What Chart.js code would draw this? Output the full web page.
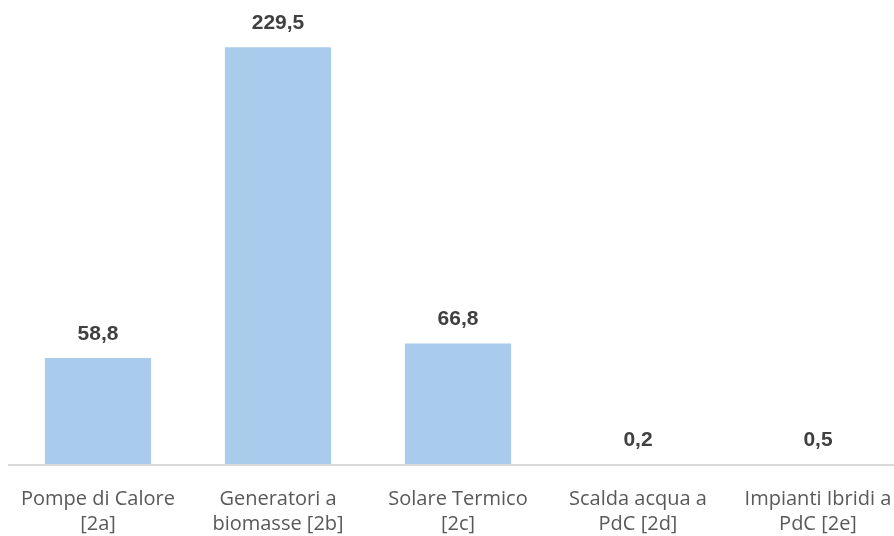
<!DOCTYPE html>
<html>
<head>
<meta charset="utf-8">
<script src="https://cdn.jsdelivr.net/npm/chart.js@4"></script>
<style>
    html, body { margin: 0; padding: 0; background: #fff; overflow: hidden; }
    #wrap { width: 920px; height: 536px; position: relative; }
</style>
</head>
<body>
<div id="wrap"><canvas id="chart"></canvas></div>
<script>
const categories = [
    ['Pompe di Calore', '[2a]'],
    ['Generatori a', 'biomasse [2b]'],
    ['Solare Termico', '[2c]'],
    ['Scalda acqua a', 'PdC [2d]'],
    ['Impianti Ibridi a', 'PdC [2e]']
];
const values = [58.8, 229.5, 66.8, 0.2, 0.5];

// value labels above bars + baseline drawn over the bars
const overlay = {
    id: 'overlay',
    afterDatasetsDraw(chart) {
        const ctx = chart.ctx;
        const area = chart.chartArea;
        const meta = chart.getDatasetMeta(0);
        ctx.save();
        ctx.strokeStyle = '#D9D9D9';
        ctx.lineWidth = 2;
        ctx.beginPath();
        ctx.moveTo(area.left, area.bottom);
        ctx.lineTo(area.right, area.bottom);
        ctx.stroke();

        ctx.font = 'bold 21px "Liberation Sans", Arial, sans-serif';
        ctx.fillStyle = '#404040';
        ctx.textAlign = 'center';
        ctx.textBaseline = 'middle';
        meta.data.forEach((bar, i) => {
            const txt = values[i].toFixed(1).replace('.', ',');
            ctx.fillText(txt, bar.x, bar.y - 24);
        });
        ctx.restore();
    }
};

new Chart(document.getElementById('chart'), {
    type: 'bar',
    data: {
        labels: categories,
        datasets: [{
            data: values,
            backgroundColor: '#A9CBEC',
            categoryPercentage: 1,
            barPercentage: 0.59
        }]
    },
    options: {
        responsive: true,
        maintainAspectRatio: false,
        animation: false,
        layout: { padding: { left: 8, right: 12, top: 10, bottom: 0 } },
        plugins: { legend: { display: false }, tooltip: { enabled: false } },
        scales: {
            x: {
                grid: { display: false },
                border: { display: false },
                ticks: {
                    color: '#595959',
                    font: { family: '"Open Sans", Roboto, sans-serif', size: 20, lineHeight: 1.25 },
                    padding: 14,
                    maxRotation: 0,
                    autoSkip: false
                },
                afterFit(scale) { scale.height = 71; }
            },
            y: {
                display: false,
                min: 0,
                max: 250
            }
        }
    },
    plugins: [overlay]
});
</script>
</body>
</html>
